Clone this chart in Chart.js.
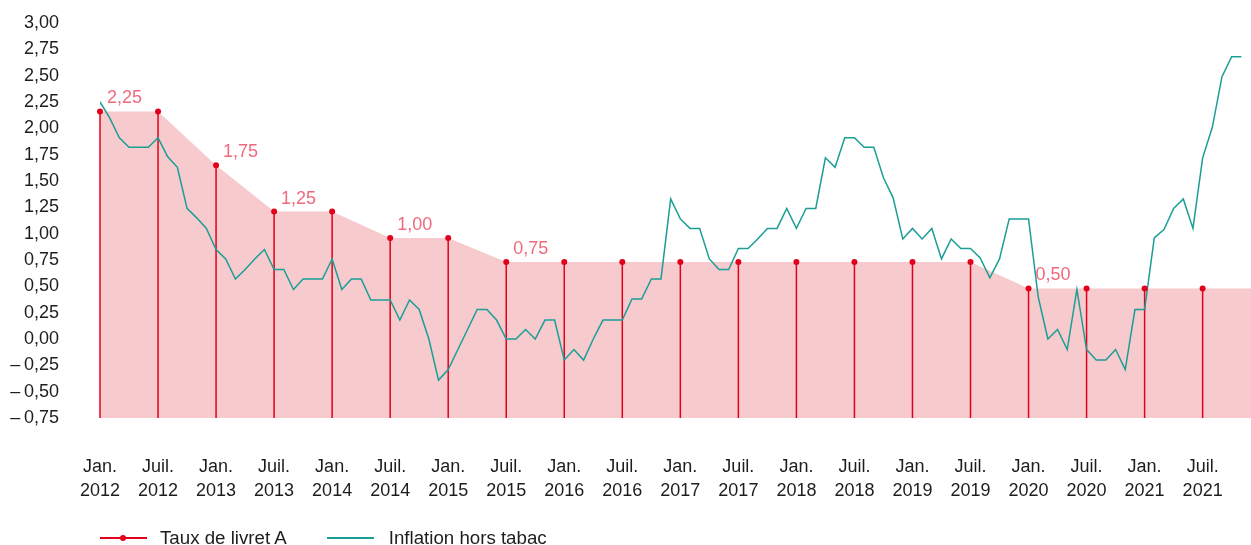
<!DOCTYPE html>
<html lang="fr">
<head>
<meta charset="utf-8">
<title>Taux du livret A et inflation hors tabac</title>
<script src="https://cdn.jsdelivr.net/npm/chart.js@4.4.1/dist/chart.umd.min.js"></script>
<style>
  body { margin: 0; background: #fff; font-family: "Liberation Sans", Arial, sans-serif; }
  #cadre { position: relative; width: 1251px; height: 545px; }
  .legende { position: absolute; left: 100px; top: 527px; display: flex; align-items: center;
             font-size: 18.7px; line-height: 22px; color: #1d1d1b; }
  .item { display: flex; align-items: center; }
  .trait { position: relative; width: 47px; height: 1.5px; }
  .point { position: absolute; left: 20px; top: -2.25px; width: 6px; height: 6px; border-radius: 50%; background: #e3001b; }
</style>
</head>
<body>
<div id="cadre">
  <canvas id="graphique" width="1251" height="545"></canvas>
  <div class="legende">
    <div class="item" style="margin-right:40px">
      <span class="trait" style="background:#e3001b;margin-right:13px"><span class="point"></span></span>
      <span>Taux de livret A</span>
    </div>
    <div class="item">
      <span class="trait" style="background:#1a9e96;margin-right:15px"></span>
      <span>Inflation hors tabac</span>
    </div>
  </div>
</div>

<script>
// --- DONNÉES ---
// étiquettes semestrielles de l'axe des abscisses (une tous les 6 mois)
const semestres = [
    ['Jan.', '2012'], ['Juil.', '2012'], ['Jan.', '2013'], ['Juil.', '2013'],
    ['Jan.', '2014'], ['Juil.', '2014'], ['Jan.', '2015'], ['Juil.', '2015'],
    ['Jan.', '2016'], ['Juil.', '2016'], ['Jan.', '2017'], ['Juil.', '2017'],
    ['Jan.', '2018'], ['Juil.', '2018'], ['Jan.', '2019'], ['Juil.', '2019'],
    ['Jan.', '2020'], ['Juil.', '2020'], ['Jan.', '2021'], ['Juil.', '2021']
];

// taux du livret A relevé à chaque semestre (tel que tracé)
const tauxLivretA = [2.16, 2.16, 1.65, 1.21, 1.21, 0.96, 0.96, 0.73, 0.73, 0.73,
                     0.73, 0.73, 0.73, 0.73, 0.73, 0.73, 0.48, 0.48, 0.48, 0.48];

// valeurs affichées au-dessus des changements de taux
const etiquettesIdx = [0, 2, 3, 5, 7, 16];
const etiquettesTxt = ['2,25', '1,75', '1,25', '1,00', '0,75', '0,50'];

// inflation hors tabac, mensuelle, janv. 2012 -> nov. 2021
const inflation = [
    2.25, 2.10, 1.91, 1.82, 1.82, 1.82, 1.91, 1.73, 1.63, 1.24, 1.15, 1.05,
    0.85, 0.76, 0.57, 0.66, 0.76, 0.85, 0.66, 0.66, 0.47, 0.57, 0.57, 0.57,
    0.76, 0.47, 0.57, 0.57, 0.37, 0.37, 0.37, 0.18, 0.37, 0.28, 0.00, -0.39,
    -0.29, -0.10, 0.09, 0.28, 0.28, 0.18, 0.00, 0.00, 0.09, 0.00, 0.18, 0.18,
    -0.20, -0.10, -0.20, 0.00, 0.18, 0.18, 0.18, 0.38, 0.38, 0.57, 0.57, 1.33,
    1.14, 1.05, 1.05, 0.76, 0.66, 0.66, 0.86, 0.86, 0.95, 1.05, 1.05, 1.24,
    1.05, 1.24, 1.24, 1.72, 1.63, 1.91, 1.91, 1.82, 1.82, 1.53, 1.34, 0.95,
    1.05, 0.95, 1.05, 0.76, 0.95, 0.86, 0.86, 0.77, 0.58, 0.76, 1.14, 1.14,
    1.14, 0.40, 0.00, 0.09, -0.10, 0.47, -0.10, -0.20, -0.20, -0.10, -0.29, 0.28,
    0.28, 0.96, 1.04, 1.24, 1.33, 1.05, 1.72, 2.01, 2.49, 2.68, 2.68
];

const MOIS_FIN = 119;   // décembre 2021, bord droit du graphique
const Y_MIN = -0.75;
const Y_MAX = 3.00;

const ROUGE = '#e3001b';
const ROSE = '#f7cacd';
const ROSE_TEXTE = '#ee6a7c';
const VERT = '#1a9e96';
const TEXTE = '#1d1d1b';

// --- FORMATAGE ---
function formatY(v) {
    const s = Math.abs(v).toFixed(2).replace('.', ',');
    return v < -0.001 ? '\u2013\u2009' + s : s;
}

// --- PLUGINS ---
// tiges verticales sous chaque point du livret A
const tiges = {
    id: 'tiges',
    afterDatasetDraw(chart, args) {
        if (args.index !== 2) return;
        const ctx = chart.ctx;
        const bas = chart.chartArea.bottom;
        ctx.save();
        ctx.strokeStyle = ROUGE;
        ctx.lineWidth = 1.5;
        chart.getDatasetMeta(0).data.forEach(p => {
            ctx.beginPath();
            ctx.moveTo(p.x, p.y);
            ctx.lineTo(p.x, bas);
            ctx.stroke();
        });
        ctx.restore();
    }
};

// valeurs du taux écrites au-dessus des points
const valeursTaux = {
    id: 'valeursTaux',
    afterDatasetsDraw(chart) {
        const ctx = chart.ctx;
        const pts = chart.getDatasetMeta(0).data;
        ctx.save();
        ctx.font = '18px "Liberation Sans", Arial, sans-serif';
        ctx.fillStyle = ROSE_TEXTE;
        ctx.textAlign = 'left';
        ctx.textBaseline = 'middle';
        etiquettesIdx.forEach((idx, k) => {
            const p = pts[idx];
            ctx.fillText(etiquettesTxt[k], p.x + 7, p.y - 13);
        });
        ctx.restore();
    }
};

// --- GRAPHIQUE ---
const pointsTaux = tauxLivretA.map((v, i) => ({ x: i * 6, y: v }));
const aireTaux = pointsTaux.concat([{ x: MOIS_FIN, y: tauxLivretA[tauxLivretA.length - 1] }]);
const pointsInflation = inflation.map((v, i) => ({ x: i, y: v }));

new Chart(document.getElementById('graphique'), {
    type: 'line',
    data: {
        datasets: [
            {
                label: 'Taux de livret A',
                data: pointsTaux,
                showLine: false,
                pointRadius: 3,
                pointBackgroundColor: ROUGE,
                pointBorderWidth: 0,
                clip: false
            },
            {
                label: 'Inflation hors tabac',
                data: pointsInflation,
                borderColor: VERT,
                borderWidth: 1.5,
                pointRadius: 0,
                tension: 0,
                fill: false
            },
            {
                label: 'aire',
                data: aireTaux,
                borderWidth: 0,
                pointRadius: 0,
                backgroundColor: ROSE,
                fill: 'start',
                tension: 0
            }
        ]
    },
    options: {
        responsive: false,
        animation: false,
        layout: { autoPadding: false, padding: { top: 23, right: 0, left: 0, bottom: 0 } },
        plugins: {
            legend: { display: false },
            tooltip: { enabled: false }
        },
        scales: {
            x: {
                type: 'linear',
                min: 0,
                max: MOIS_FIN,
                grid: { display: false },
                border: { display: false },
                afterFit(s) {
                    s.height = 127;
                    s.paddingLeft = 0;
                    s.paddingRight = 0;
                },
                ticks: {
                    stepSize: 6,
                    includeBounds: false,
                    autoSkip: false,
                    maxRotation: 0,
                    padding: 30,
                    color: TEXTE,
                    font: { family: '"Liberation Sans", Arial, sans-serif', size: 18, lineHeight: 1.28 },
                    callback: v => (v % 6 === 0 ? semestres[v / 6] : '')
                }
            },
            y: {
                min: Y_MIN,
                max: Y_MAX,
                grid: { display: false },
                border: { display: false },
                afterFit(s) {
                    s.width = 100;
                    s.paddingTop = 0;
                    s.paddingBottom = 0;
                },
                ticks: {
                    stepSize: 0.25,
                    autoSkip: false,
                    padding: 33,
                    color: TEXTE,
                    font: { family: '"Liberation Sans", Arial, sans-serif', size: 18 },
                    callback: v => formatY(v)
                }
            }
        }
    },
    plugins: [tiges, valeursTaux]
});
</script>
</body>
</html>
